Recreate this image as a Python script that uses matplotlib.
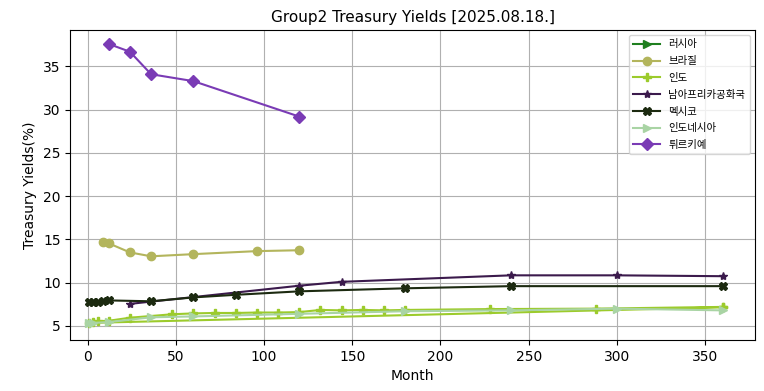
import numpy as np
import matplotlib.pyplot as plt

plt.rcParams['font.family'] = ['DejaVu Sans', 'Noto Sans CJK KR']

# series data (month, yield %)
russia_m = []
russia_y = []

brazil_m = [9, 12, 24, 36, 60, 96, 120]
brazil_y = [14.65, 14.55, 13.5, 13.05, 13.3, 13.65, 13.75]

# india line returns from 360 to the short end first
india_m = [360, 1, 3, 6, 12, 24, 48, 60, 72, 84, 96, 108, 120, 132, 144, 156, 168, 180, 228, 288, 360]
india_y = [7.15, 5.35, 5.5, 5.55, 5.6, 5.95, 6.35, 6.45, 6.5, 6.5, 6.55, 6.55, 6.6, 6.85, 6.8, 6.85, 6.8, 6.85, 6.95, 7.0, 7.2]

safrica_m = [24, 120, 144, 240, 300, 360]
safrica_y = [7.55, 9.65, 10.1, 10.85, 10.85, 10.75]

mexico_m = [1, 3, 6, 9, 12, 36, 60, 84, 120, 180, 240, 360]
mexico_y = [7.75, 7.75, 7.8, 7.85, 7.95, 7.85, 8.3, 8.6, 9.0, 9.35, 9.6, 9.6]

indonesia_m = [1, 3, 12, 36, 60, 120, 180, 240, 300, 360]
indonesia_y = [5.35, 5.35, 5.45, 6.0, 6.1, 6.4, 6.7, 6.8, 7.0, 6.8]

turkey_m = [12, 24, 36, 60, 120]
turkey_y = [37.6, 36.7, 34.1, 33.3, 29.2]


def main():
    fig, ax = plt.subplots(figsize=(7.64, 3.91), dpi=100)
    fig.subplots_adjust(left=0.092, right=0.988, top=0.923, bottom=0.131)

    ax.plot(russia_m, russia_y, marker='>', color='#1f7f1f', label='러시아')
    ax.plot(brazil_m, brazil_y, marker='o', color='#b3b55c', label='브라질')
    ax.plot(india_m, india_y, marker='P', color='#9ccb2c', label='인도')
    ax.plot(safrica_m, safrica_y, marker='*', color='#3b1a4c', label='남아프리카공화국')
    ax.plot(mexico_m, mexico_y, marker='X', color='#1c2a10', label='멕시코')
    ax.plot(indonesia_m, indonesia_y, marker='>', color='#a9d4a4', label='인도네시아')
    ax.plot(turkey_m, turkey_y, marker='D', color='#7a3bb5', label='튀르키예')

    ax.set_xlim(-9.8, 378.2)
    ax.set_ylim(3.4, 39.2)
    ax.set_xticks(np.arange(0, 351, 50))
    ax.set_yticks(np.arange(5, 36, 5))
    ax.grid(True, color='#b0b0b0')
    ax.set_axisbelow(True)

    ax.set_title('Group2 Treasury Yields [2025.08.18.]', fontsize=11)
    ax.set_xlabel('Month')
    ax.set_ylabel('Treasury Yields(%)')
    ax.legend(loc='upper right', prop={'family': 'Noto Sans CJK KR', 'size': 7.5},
              labelspacing=0.65, handlelength=2.6)

    plt.savefig('out.png')


if __name__ == "__main__":
    main()
